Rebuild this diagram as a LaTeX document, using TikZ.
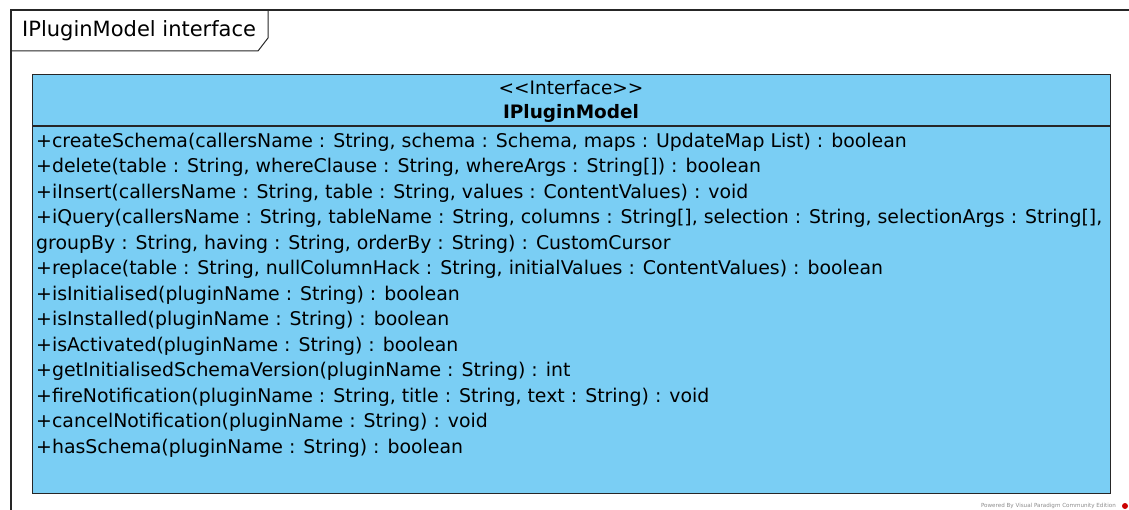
\documentclass[tikz,border=0pt]{standalone}
\usepackage{fontspec}
\setmainfont{DejaVu Sans}
\usepackage{xcolor}

\definecolor{umlblue}{RGB}{122,206,244}
\tikzset{
  member/.style={anchor=west, inner sep=0pt, font=\fontsize{18.9}{22}\selectfont},
  header/.style={inner sep=0pt, font=\fontsize{18.5}{22}\selectfont},
  classbox/.style={draw=black!85, line width=1.4pt, fill=umlblue, anchor=north west, inner sep=0pt}
}

\begin{document}
\begin{tikzpicture}[x=1pt,y=-1pt]
\useasboundingbox (0,0) rectangle (1129,510);
% Frame with tab
\draw[line width=1.3pt, black!85] (11,515) -- (11,10) -- (1135,10);
\draw[line width=1pt, black!85] (11,51) -- (258,51) -- (268,38) -- (268,10);
\node[anchor=west, inner sep=0pt, font=\fontsize{21}{24}\selectfont] (title) at (22,31) {IPluginModel interface};

% Class box
\node[classbox, minimum width=1078pt, minimum height=419pt] (cls) at (32,74) {};
\draw[line width=1.4pt, black!85] ([yshift=-52pt]cls.north west) -- ([yshift=-52pt]cls.north east);
\node[header] (stereo) at (571,88) {{<}{<}Interface{>}{>}};
\node[header, font=\fontsize{18.5}{22}\bfseries\selectfont] (name) at (571,113) {IPluginModel};

% Operations
\foreach \op [count=\i] in {
  {+createSchema(callersName : String, schema : Schema, maps : UpdateMap List) : boolean},
  {+delete(table : String, whereClause : String, whereArgs : String[]) : boolean},
  {+iInsert(callersName : String, table : String, values : ContentValues) : void},
  {+iQuery(callersName : String, tableName : String, columns : String[], selection : String, selectionArgs : String[],},
  {groupBy : String, having : String, orderBy : String) : CustomCursor},
  {+replace(table : String, nullColumnHack : String, initialValues : ContentValues) : boolean},
  {+isInitialised(pluginName : String) : boolean},
  {+isInstalled(pluginName : String) : boolean},
  {+isActivated(pluginName : String) : boolean},
  {+getInitialisedSchemaVersion(pluginName : String) : int},
  {+fireNotification(pluginName : String, title : String, text : String) : void},
  {+cancelNotification(pluginName : String) : void},
  {+hasSchema(pluginName : String) : boolean}}
  \node[member] (op\i) at (36,{142+25.5*(\i-1)}) {\op};

% Watermark
\node[anchor=east, inner sep=0pt, text=black!45, font=\fontsize{5.6}{6}\selectfont] (vp) at (1116,506) {Powered By Visual Paradigm Community Edition};
\fill[red!80!black] ([xshift=9pt]vp.east) circle (3pt);
\end{tikzpicture}
\end{document}
